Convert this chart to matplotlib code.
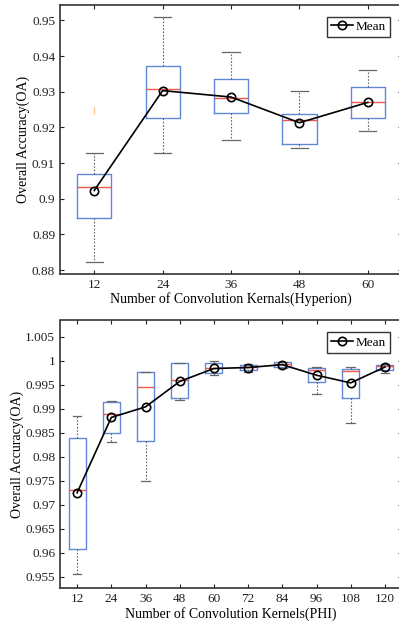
import numpy as np
import matplotlib
matplotlib.use('Agg')
import matplotlib.pyplot as plt

plt.rcParams['font.family'] = ['Liberation Serif', 'DejaVu Serif']

# Hyperion results (box stats)
hyp_kernels = [12, 24, 36, 48, 60]
hyp_whislo = [0.8824, 0.9129, 0.9166, 0.9142, 0.9190]
hyp_q1 = [0.8946, 0.9227, 0.9240, 0.9153, 0.9227]
hyp_med = [0.9032, 0.9307, 0.9282, 0.9221, 0.9270]
hyp_q3 = [0.9069, 0.9373, 0.9336, 0.9238, 0.9312]
hyp_whishi = [0.9129, 0.9509, 0.9410, 0.9301, 0.9362]
hyp_mean = [0.9023, 0.9303, 0.9285, 0.9213, 0.9270]
hyp_fliers = [[0.925], [], [], [], []]

# PHI results
phi_kernels = [12, 24, 36, 48, 60, 72, 84, 96, 108, 120]
phi_whislo = [0.9555, 0.9831, 0.9749, 0.9918, 0.9971, 0.9976, 0.9985, 0.9931, 0.9870, 0.9974]
phi_q1 = [0.9608, 0.9849, 0.9833, 0.9922, 0.9974, 0.9981, 0.9987, 0.9956, 0.9922, 0.9981]
phi_med = [0.9730, 0.9890, 0.9945, 0.9960, 0.9985, 0.9988, 0.9994, 0.9980, 0.9979, 0.9990]
phi_q3 = [0.9840, 0.9915, 0.9976, 0.9995, 0.9996, 0.9992, 0.9997, 0.9984, 0.9983, 0.9992]
phi_whishi = [0.9884, 0.9917, 0.9977, 0.9996, 0.9999, 0.9993, 0.9998, 0.9988, 0.9987, 0.9994]
phi_mean = [0.9725, 0.9882, 0.9904, 0.9957, 0.9984, 0.9986, 0.9992, 0.9970, 0.9954, 0.9987]

box_col = '#6188d4'
med_col = '#ee5a50'
wh_col = '#666666'


def draw_panel(ax, kernels, whislo, q1, med, q3, whishi, mean, fliers, xlabel, ylim, yticks, ytl):
    stats = []
    for i in range(len(kernels)):
        stats.append(dict(whislo=whislo[i], q1=q1[i], med=med[i], q3=q3[i],
                          whishi=whishi[i], fliers=fliers[i]))
    ax.bxp(stats, positions=kernels, widths=6, showfliers=True,
           boxprops=dict(color=box_col, linewidth=1.0),
           medianprops=dict(color=med_col, linewidth=1.0),
           whiskerprops=dict(color=wh_col, linewidth=0.8, linestyle=(0, (1.5, 1.5))),
           capprops=dict(color=wh_col, linewidth=0.9),
           flierprops=dict(marker='|', markeredgecolor='#f6c79a', markersize=6,
                           markeredgewidth=1.0, linestyle='none'),
           capwidths=3)
    ax.plot(kernels, mean, color='black', linewidth=1.2, marker='o',
            markersize=6, markerfacecolor='none', markeredgecolor='black',
            markeredgewidth=1.2, label='Mean', zorder=5)
    ax.set_xlim(6, kernels[-1] + 6)
    ax.set_ylim(*ylim)
    ax.set_xticks(kernels)
    ax.set_xticklabels([str(k) for k in kernels])
    ax.set_yticks(yticks)
    ax.set_yticklabels(ytl)
    ax.tick_params(direction='in', top=True, right=True, length=3,
                   width=0.8, labelsize=9.5, colors='#222222')
    for s in ax.spines.values():
        s.set_linewidth(1.2)
        s.set_color('#333333')
    ax.set_xlabel(xlabel, fontsize=10, labelpad=1)
    ax.set_ylabel('Overall Accuracy(OA)', fontsize=10, labelpad=1)
    leg = ax.legend(loc='upper right', fontsize=9.5, frameon=True, fancybox=False,
                    handlelength=1.7, borderpad=0.3, handletextpad=0.2,
                    borderaxespad=0.9)
    leg.get_frame().set_edgecolor('black')
    leg.get_frame().set_linewidth(1.0)


fig = plt.figure(figsize=(3.99, 6.30), dpi=100)
fig.patch.set_facecolor('white')

ax1 = fig.add_axes([60 / 399, 1 - 274 / 630, 342 / 399, 269 / 630])
hyp_yt = [0.88, 0.89, 0.90, 0.91, 0.92, 0.93, 0.94, 0.95]
draw_panel(ax1, hyp_kernels, hyp_whislo, hyp_q1, hyp_med, hyp_q3, hyp_whishi,
           hyp_mean, hyp_fliers, 'Number of Convolution Kernals(Hyperion)',
           (0.8789, 0.9543), hyp_yt,
           ['0.88', '0.89', '0.9', '0.91', '0.92', '0.93', '0.94', '0.95'])

ax2 = fig.add_axes([60 / 399, 1 - 588.3 / 630, 342 / 399, 267.8 / 630])
phi_yt = [0.955, 0.96, 0.965, 0.97, 0.975, 0.98, 0.985, 0.99, 0.995, 1.0, 1.005]
draw_panel(ax2, phi_kernels, phi_whislo, phi_q1, phi_med, phi_q3, phi_whishi,
           phi_mean, [[] for _ in phi_kernels], 'Number of Convolution Kernels(PHI)',
           (0.9526, 1.0084), phi_yt,
           ['0.955', '0.96', '0.965', '0.97', '0.975', '0.98', '0.985', '0.99',
            '0.995', '1', '1.005'])

fig.savefig('out.png', dpi=100, facecolor='white')
